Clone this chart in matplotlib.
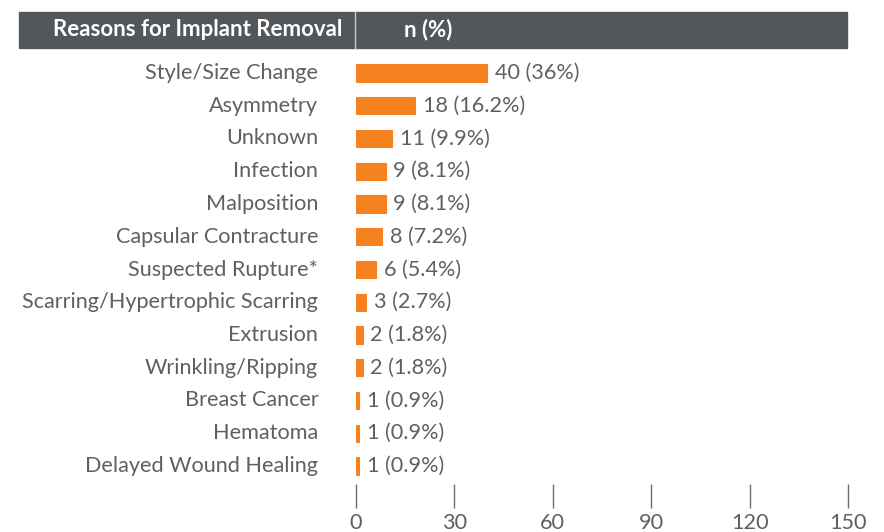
import matplotlib.pyplot as plt
from matplotlib.patches import Rectangle

reasons = ["Style/Size Change", "Asymmetry", "Unknown", "Infection", "Malposition",
           "Capsular Contracture", "Suspected Rupture*", "Scarring/Hypertrophic Scarring",
           "Extrusion", "Wrinkling/Ripping", "Breast Cancer", "Hematoma",
           "Delayed Wound Healing"]
counts = [40, 18, 11, 9, 9, 8, 6, 3, 2, 2, 1, 1, 1]
pcts = ["36%", "16.2%", "9.9%", "8.1%", "8.1%", "7.2%", "5.4%", "2.7%",
        "1.8%", "1.8%", "0.9%", "0.9%", "0.9%"]
xticks = [0, 30, 60, 90, 120, 150]

orange = "#F58220"
grey_text = "#5f6062"
header_grey = "#54575a"
font = "Lato"

W, H = 884, 532
fig = plt.figure(figsize=(W / 100, H / 100), dpi=100)

# axes in pixel coords
x0, x1 = 356, 848
ytop, ybot = 50, 484
ax = fig.add_axes([x0 / W, 1 - ybot / H, (x1 - x0) / W, (ybot - ytop) / H])

ys = list(range(len(reasons)))
ax.barh(ys, counts, height=0.52, color=orange, edgecolor=orange, linewidth=0.8)
for y, c, p in zip(ys, counts, pcts):
    ax.text(c + 2.4, y, f"{c} ({p})", va="center", ha="left", fontsize=15.6,
            color=grey_text, family=font)
    ax.text(-11.5, y, reasons[y], va="center", ha="right", fontsize=15.6,
            color=grey_text, family=font)

ax.set_xlim(0, 150)
row0, step = 73, 32.75
ax.set_ylim((ybot - row0) / step, (ytop - row0) / step)
ax.set_xticks(xticks)
ax.set_yticks([])
for s in ax.spines.values():
    s.set_visible(False)
ax.tick_params(axis="x", length=17, width=1, color="#6d6e70", pad=4,
               labelsize=15.6, labelcolor=grey_text)
for lbl in ax.get_xticklabels():
    lbl.set_family(font)

# header band
fig.patches.append(Rectangle((19 / W, 1 - 48 / H), (847 - 19) / W, 36 / H,
                             transform=fig.transFigure, color=header_grey, zorder=0))
fig.lines.append(plt.Line2D([355 / W, 355 / W], [1 - 48 / H, 1 - 12 / H],
                            transform=fig.transFigure, color="#c8c9ca", lw=1))
fig.text(342 / W, 1 - 30 / H, "Reasons for Implant Removal", ha="right", va="center",
         fontsize=16, fontweight="bold", color="white", family=font)
fig.text(404 / W, 1 - 30 / H, "n (%)", ha="left", va="center",
         fontsize=16, fontweight="bold", color="white", family=font)

fig.savefig("out.png", dpi=100)
